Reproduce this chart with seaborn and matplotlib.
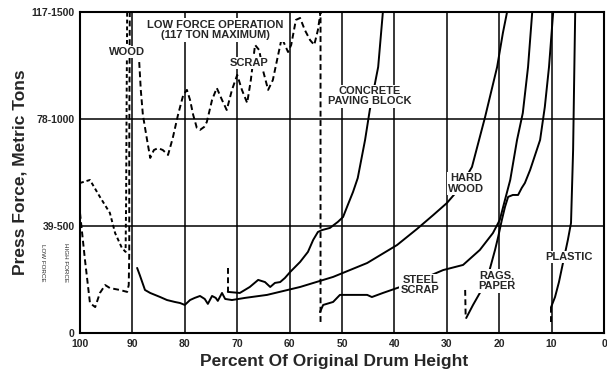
import seaborn as sns
import matplotlib.pyplot as plt
import pandas as pd

sns.set_style('white')
plt.rcParams['font.family'] = ['Liberation Sans', 'DejaVu Sans']

# ==========================
# DATA (x = percent of original drum height, y = press force, high-force tons)
# ==========================
# wood, low force (dotted upper trace)
wood_a_x = [100, 98.1, 96.2, 94.3, 93.3, 92.0, 91.3, 91.2, 91.1, 91.0]
wood_a_y = [701, 715, 636, 561, 467, 397, 379, 622, 1089, 1500]

# wood, high force (dashed lower trace)
wood_b_x = [100, 99.05, 98.1, 97.1, 96.2, 95.2, 94.3, 92.4, 91.0, 90.7, 90.6, 90.6, 90.5]
wood_b_y = [561, 341, 140, 121, 187, 224, 210, 201, 192, 224, 374, 855, 1500]

# scrap, low force operation
scrap_lo_x = [88.7, 88.4, 88.0, 87.2, 86.6, 85.9, 85.1, 84.2, 83.2, 82.3, 81.3, 80.3,
              79.6, 79.0, 78.4, 77.7, 77.1, 76.3, 75.8, 74.8, 73.9, 72.9, 72.0, 71.0,
              70.0, 69.1, 68.1, 67.4, 66.6, 65.8, 65.1, 64.1, 63.2, 62.6, 61.5, 60.3,
              59.7, 58.8, 58.0, 57.1, 56.1, 55.3, 54.6, 54.1, 54.1]
scrap_lo_y = [1266, 1136, 1019, 902, 818, 855, 864, 855, 832, 911, 1019, 1112,
              1136, 1089, 1019, 958, 949, 963, 986, 1089, 1145, 1089, 1042, 1136,
              1206, 1136, 1075, 1182, 1346, 1322, 1229, 1136, 1182, 1252, 1379, 1313,
              1346, 1463, 1472, 1416, 1369, 1346, 1416, 1500, 51]

# hard wood
hard_wood_x = [89.1, 88.6, 87.6, 86.6, 84.7, 83.4, 81.9, 80.9, 80.0, 79.0, 78.1, 77.1,
               76.2, 75.6, 74.8, 74.1, 73.7, 72.9, 72.3, 71.0, 68.5, 64.3, 58.0, 51.7,
               45.2, 39.5, 35.7, 32.6, 30.0, 27.5, 25.2, 22.7, 20.4, 19.3, 18.5]
hard_wood_y = [304, 271, 201, 187, 168, 154, 145, 140, 131, 154, 164, 173,
               159, 136, 173, 164, 150, 187, 159, 154, 164, 178, 215, 262,
               327, 411, 486, 551, 607, 678, 776, 1009, 1243, 1402, 1500]

# concrete paving block
concrete_start_x = [71.8, 71.8]
concrete_start_y = [304, 192]
concrete_x = [71.8, 69.5, 67.6, 66.0, 64.7, 63.7, 62.8, 61.8, 60.9, 59.9, 58.0, 56.5,
              55.5, 54.6, 53.8, 52.3, 50.8, 49.8, 48.9, 47.9, 47.0, 45.6, 44.7, 43.1, 42.2]
concrete_y = [192, 187, 215, 248, 238, 215, 234, 238, 257, 285, 332, 379,
              435, 472, 481, 491, 519, 542, 598, 659, 724, 902, 1042, 1243, 1500]

# steel scrap
steel_x = [54.2, 53.6, 51.7, 50.4, 48.5, 45.2, 44.3, 42.2, 39.5, 35.1, 30.7, 26.9,
           23.7, 21.2, 19.9, 18.9, 17.9, 16.6, 15.5, 14.5, 13.7]
steel_y = [98, 131, 145, 178, 178, 178, 168, 187, 210, 248, 294, 318,
           388, 467, 528, 622, 715, 902, 1028, 1243, 1500]

# rags, paper
rags_start_x = [26.5, 26.4]
rags_start_y = [201, 70]
rags_x = [26.3, 25.0, 23.7, 22.1, 20.8, 20.2, 19.5, 18.9, 18.3, 17.4, 16.4, 15.7,
          15.1, 14.1, 12.2, 11.3, 10.5, 9.7]
rags_y = [70, 131, 187, 271, 388, 449, 528, 589, 636, 645, 645, 678,
          701, 762, 902, 1056, 1243, 1500]

# plastic
plastic_start_x = [10.1, 10.1]
plastic_start_y = [51, 131]
plastic_x = [10.1, 9.35, 8.6, 8.0, 6.9, 6.3, 5.9, 5.7, 5.5]
plastic_y = [121, 168, 238, 308, 435, 514, 855, 1182, 1500]

x_ticks = [100, 90, 80, 70, 60, 50, 40, 30, 20, 10, 0]
y_ticks = [0, 500, 1000, 1500]
y_tick_labels = ['0', '39-500', '78-1000', '117-1500']

# ==========================
# PLOT
# ==========================
fig = plt.figure(figsize=(6.07, 3.76), dpi=100)
ax = fig.add_axes([0.1318, 0.1144, 0.8633, 0.8537])


def draw(xs, ys, ls='-', lw=1.4):
    df = pd.DataFrame({'x': xs, 'y': ys})
    sns.lineplot(data=df, x='x', y='y', sort=False, estimator=None, color='black',
                 linewidth=lw, linestyle=ls, ax=ax, zorder=3)


dash = (0, (3, 1.8))
draw(wood_a_x, wood_a_y, ls=(0, (2, 1.5)), lw=1.4)
draw(wood_b_x, wood_b_y, ls=dash, lw=1.4)
draw(scrap_lo_x, scrap_lo_y, ls=dash, lw=1.4)
draw(hard_wood_x, hard_wood_y)
draw(concrete_start_x, concrete_start_y, ls=dash)
draw(concrete_x, concrete_y)
draw(steel_x, steel_y)
draw(rags_start_x, rags_start_y, ls=dash)
draw(rags_x, rags_y)
draw(plastic_start_x, plastic_start_y, ls=dash)
draw(plastic_x, plastic_y)

ax.set_xlim(100, 0)
ax.set_ylim(0, 1500)
ax.set_xticks(x_ticks)
ax.set_xticklabels([str(t) for t in x_ticks])
ax.set_yticks(y_ticks)
ax.set_yticklabels(y_tick_labels)
ax.tick_params(length=0, labelsize=7.5, pad=4)
for lab in ax.get_xticklabels() + ax.get_yticklabels():
    lab.set_fontweight('bold')
ax.grid(True, color='black', linewidth=1.1, zorder=1)
ax.set_axisbelow(True)
for s in ax.spines.values():
    s.set_color('black')
    s.set_linewidth(1.5)

ax.set_xlabel('Percent Of Original Drum Height', fontsize=12.5, fontweight='bold',
              labelpad=4, x=0.485)
ax.set_ylabel('Press Force, Metric Tons', fontsize=12.5, fontweight='bold', labelpad=3)

box = dict(facecolor='white', edgecolor='none', pad=1.0)
lbl = dict(fontsize=8, fontweight='bold', ha='center', va='center', bbox=box,
           zorder=5, linespacing=1.05)
ax.text(91.0, 1313, 'WOOD', **lbl)
ax.text(74.2, 1416, 'LOW FORCE OPERATION\n(117 TON MAXIMUM)', **lbl)
ax.text(67.8, 1262, 'SCRAP', **lbl)
ax.text(44.7, 1107, 'CONCRETE\nPAVING BLOCK', **lbl)
ax.text(26.3, 699, 'HARD\nWOOD', **lbl)
ax.text(35.1, 224, 'STEEL\nSCRAP', **lbl)
ax.text(20.4, 243, 'RAGS,\nPAPER', **lbl)
ax.text(6.7, 355, 'PLASTIC', **lbl)

ax.text(-0.0725, 0.22, 'LOW FORCE', transform=ax.transAxes, rotation=270,
        fontsize=4.5, ha='center', va='center', clip_on=False)
ax.text(-0.027, 0.22, 'HIGH FORCE', transform=ax.transAxes, rotation=270,
        fontsize=4.5, ha='center', va='center', clip_on=False)

fig.savefig('out.png', dpi=100, facecolor='white')
